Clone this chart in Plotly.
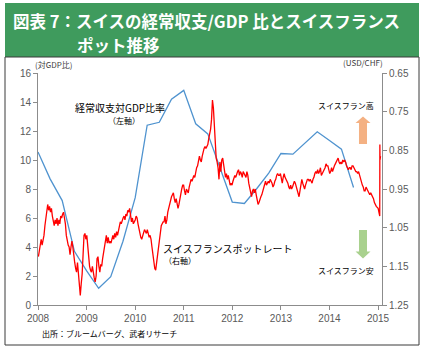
import plotly.graph_objects as go
import pandas as pd

# ---------------- data ----------------
# Current account / GDP (%), quarterly, left axis
ca_dates = ["2008-01-01", "2008-04-01", "2008-07-01", "2008-10-01",
            "2009-01-01", "2009-04-01", "2009-07-01", "2009-10-01",
            "2010-01-01", "2010-04-01", "2010-07-01", "2010-10-01",
            "2011-01-01", "2011-04-01", "2011-07-01", "2011-10-01",
            "2012-01-01", "2012-04-01", "2012-07-01", "2012-10-01",
            "2013-01-01", "2013-04-01", "2013-07-01", "2013-10-01",
            "2014-01-01", "2014-04-01", "2014-07-01"]
ca_values = [10.55, 8.7, 7.2, 3.7, 2.35, 1.15, 1.95, 4.4, 7.4, 12.4, 12.6, 14.2,
             14.8, 12.5, 11.8, 9.45, 7.1, 7.0, 8.0, 9.1, 10.45, 10.4, 11.2, 11.95,
             11.35, 10.75, 8.1]

# USD/CHF spot, weekly readings (right axis, reversed)
fx_2008 = [1.125, 1.11, 1.095, 1.08, 1.095, 1.085, 1.07, 1.045, 1.02, 1.0, 0.99, 1.005, 0.995,
           1.01, 1.0, 1.02, 1.035, 1.045, 1.03, 1.04, 1.025, 1.045, 1.03, 1.04, 1.02,
           1.025, 1.015, 1.01, 1.025, 1.04, 1.07, 1.09, 1.095, 1.10, 1.12, 1.10, 1.085, 1.10,
           1.13, 1.14, 1.155, 1.165, 1.14, 1.175, 1.20, 1.225, 1.195, 1.17, 1.12, 1.07, 1.065, 1.08]
fx_2009 = [1.07, 1.10, 1.12, 1.15, 1.16, 1.165, 1.15, 1.175, 1.18, 1.19, 1.175, 1.13, 1.125,
           1.15, 1.165, 1.145, 1.15, 1.13, 1.115, 1.10, 1.085, 1.07, 1.09, 1.075, 1.09, 1.085,
           1.09, 1.075, 1.07, 1.08, 1.065, 1.075, 1.06, 1.07, 1.055, 1.045, 1.035, 1.04, 1.03,
           1.025, 1.02, 1.03, 1.015, 1.02, 1.005, 1.01, 1.0, 1.02, 1.035, 1.025, 1.04, 1.035]
fx_2010 = [1.03, 1.02, 1.025, 1.04, 1.055, 1.065, 1.075, 1.08, 1.07, 1.065, 1.055, 1.06, 1.065,
           1.055, 1.065, 1.075, 1.07, 1.08, 1.10, 1.125, 1.145, 1.155, 1.16, 1.14, 1.12, 1.09,
           1.07, 1.055, 1.045, 1.04, 1.035, 1.035, 1.02, 1.04, 1.03, 1.01, 1.0, 0.985, 0.975,
           0.97, 0.965, 0.96, 0.975, 0.985, 0.975, 0.985, 1.0, 0.99, 0.975, 0.955, 0.95, 0.94]
fx_2011 = [0.94, 0.955, 0.965, 0.95, 0.955, 0.96, 0.945, 0.935, 0.925, 0.93, 0.92, 0.915, 0.92,
           0.905, 0.895, 0.89, 0.87, 0.865, 0.875, 0.88, 0.865, 0.85, 0.845, 0.84, 0.845, 0.84,
           0.835, 0.82, 0.81, 0.795, 0.77, 0.72, 0.74, 0.79, 0.80, 0.87, 0.88, 0.895, 0.925,
           0.88, 0.905, 0.875, 0.87, 0.885, 0.905, 0.92, 0.91, 0.925, 0.915, 0.935, 0.94, 0.935]
fx_2012 = [0.94, 0.93, 0.92, 0.915, 0.92, 0.91, 0.905, 0.90, 0.915, 0.905, 0.91, 0.92, 0.905,
           0.91, 0.915, 0.92, 0.905, 0.915, 0.935, 0.95, 0.965, 0.97, 0.955, 0.95, 0.96, 0.95,
           0.965, 0.975, 0.99, 0.985, 0.975, 0.97, 0.965, 0.955, 0.95, 0.935, 0.93, 0.94, 0.935,
           0.93, 0.935, 0.925, 0.93, 0.935, 0.945, 0.94, 0.93, 0.925, 0.915, 0.91, 0.915, 0.915]
fx_2013 = [0.91, 0.925, 0.935, 0.92, 0.91, 0.92, 0.925, 0.93, 0.935, 0.945, 0.95, 0.94, 0.95,
           0.945, 0.935, 0.93, 0.935, 0.945, 0.955, 0.965, 0.97, 0.955, 0.935, 0.925, 0.935, 0.945,
           0.95, 0.94, 0.93, 0.925, 0.925, 0.93, 0.925, 0.93, 0.935, 0.925, 0.92, 0.91, 0.905,
           0.91, 0.90, 0.91, 0.905, 0.895, 0.915, 0.91, 0.905, 0.90, 0.895, 0.885, 0.89, 0.89]
fx_2014 = [0.905, 0.91, 0.905, 0.895, 0.905, 0.895, 0.89, 0.885, 0.88, 0.875, 0.87, 0.88, 0.885,
           0.88, 0.885, 0.875, 0.88, 0.875, 0.88, 0.89, 0.895, 0.90, 0.895, 0.895, 0.90, 0.89,
           0.89, 0.895, 0.90, 0.905, 0.905, 0.91, 0.905, 0.915, 0.92, 0.93, 0.94, 0.945, 0.955,
           0.955, 0.945, 0.95, 0.955, 0.96, 0.965, 0.96, 0.965, 0.97, 0.975, 0.985, 0.99, 0.995]
fx_tail_dates = ["2015-01-02", "2015-01-09", "2015-01-14", "2015-01-15", "2015-01-16", "2015-01-20"]
fx_tail_values = [1.0, 1.01, 1.02, 0.835, 0.875, 0.865]

fx_weekly = fx_2008 + fx_2009 + fx_2010 + fx_2011 + fx_2012 + fx_2013 + fx_2014
fx_dates = list(pd.date_range("2008-01-04", periods=len(fx_weekly), freq="7D").strftime("%Y-%m-%d")) + fx_tail_dates
fx_values = fx_weekly + fx_tail_values

year_ticks = ["2008-01-01", "2009-01-01", "2010-01-01", "2011-01-01",
              "2012-01-01", "2013-01-01", "2014-01-01", "2015-01-01"]
year_labels = ["2008", "2009", "2010", "2011", "2012", "2013", "2014", "2015"]
left_ticks = [0, 2, 4, 6, 8, 10, 12, 14, 16]
right_ticks = [0.65, 0.75, 0.85, 0.95, 1.05, 1.15, 1.25]

title_line1 = "図表 7：スイスの経常収支/GDP 比とスイスフランス"
title_line2 = "ポット推移"

# ---------------- figure ----------------
W, H = 427, 351
L, R, T, B = 38, 382, 73, 305

def px(x):
    return (x - L) / (R - L)

def py(y):
    return (B - y) / (B - T)

JP = "Noto Sans CJK JP"
NUM = "Liberation Sans, Arial, sans-serif"
GREY = "#595959"
AX = "#8c8c8c"

fig = go.Figure()
fig.add_trace(go.Scatter(x=ca_dates, y=ca_values, mode="lines",
                         line=dict(color="#4f93cf", width=1.3), yaxis="y",
                         showlegend=False, hoverinfo="skip"))
fig.add_trace(go.Scatter(x=fx_dates, y=fx_values, mode="lines",
                         line=dict(color="#ff0000", width=1.3), yaxis="y2",
                         showlegend=False, hoverinfo="skip"))

fig.update_layout(
    width=W, height=H,
    margin=dict(l=L, r=W - R, t=T, b=H - B, pad=0),
    paper_bgcolor="white", plot_bgcolor="white",
    xaxis=dict(type="date", range=["2008-01-01", "2015-01-31"],
               tickvals=year_ticks, ticktext=year_labels,
               showgrid=False, zeroline=False, showline=True, linecolor=AX, linewidth=1,
               ticks="outside", ticklen=4, tickcolor=AX,
               tickfont=dict(family=NUM, size=10, color=GREY)),
    yaxis=dict(range=[0, 16], tickvals=left_ticks, showgrid=False, zeroline=False,
               showline=True, linecolor=AX, linewidth=1, ticks="outside", ticklen=4,
               tickcolor=AX, tickfont=dict(family=NUM, size=10, color=GREY)),
    yaxis2=dict(range=[1.25, 0.65], tickvals=right_ticks, tickformat=".2f",
                overlaying="y", side="right", showgrid=False, zeroline=False,
                showline=True, linecolor=AX, linewidth=1, ticks="outside", ticklen=4,
                tickcolor=AX, tickfont=dict(family=NUM, size=10, color=GREY)),
)

shapes = [
    dict(type="rect", xref="paper", yref="paper", x0=px(5), x1=px(419), y0=py(57), y1=py(3),
         fillcolor="#3f9b5d", line=dict(width=0), layer="below"),
    dict(type="rect", xref="paper", yref="paper", x0=px(5), x1=px(419), y0=py(345), y1=py(57),
         fillcolor="rgba(0,0,0,0)", line=dict(color="#3a3a3a", width=1)),
]
ua = [(359, 144), (359, 123), (355.5, 123), (363, 116.5), (370.5, 123), (367, 123), (367, 144)]
da = [(359, 230), (359, 251.5), (355.5, 251.5), (363, 258.5), (370.5, 251.5), (367, 251.5), (367, 230)]

def path(pts):
    return "M " + " L ".join(f"{px(a):.4f},{py(b):.4f}" for a, b in pts) + " Z"

shapes.append(dict(type="path", xref="paper", yref="paper", path=path(ua),
                   fillcolor="#f4b183", line=dict(width=0)))
shapes.append(dict(type="path", xref="paper", yref="paper", path=path(da),
                   fillcolor="#a9d18e", line=dict(width=0)))
fig.update_layout(shapes=shapes)


def txt(x, y, s, size, color="#000000", family=JP, anchor="left"):
    fig.add_annotation(x=px(x), y=py(y), xref="paper", yref="paper", text=s,
                       showarrow=False, xanchor=anchor, yanchor="middle", align="left",
                       font=dict(family=family, size=size, color=color))

txt(11, 21, "<b>" + title_line1 + "</b>", 16.5, "white")
txt(75, 45.5, "<b>" + title_line2 + "</b>", 16.5, "white")
txt(33, 64, "(対GDP比)", 8, "#404040")
txt(385, 63, "(USD/CHF)", 8, "#404040", anchor="right")
txt(73, 107, "経常収支対GDP比率", 10)
txt(124, 120, "（左軸）", 8, anchor="center")
txt(161, 248, "スイスフランスポットレート", 10)
txt(162, 260, "（右軸）", 8)
txt(376, 105, "スイスフラン高", 8, anchor="right")
txt(376, 270, "スイスフラン安", 8, anchor="right")
txt(40, 333, "出所：ブルームバーグ、武者リサーチ", 8)

fig.write_html("out.html")
